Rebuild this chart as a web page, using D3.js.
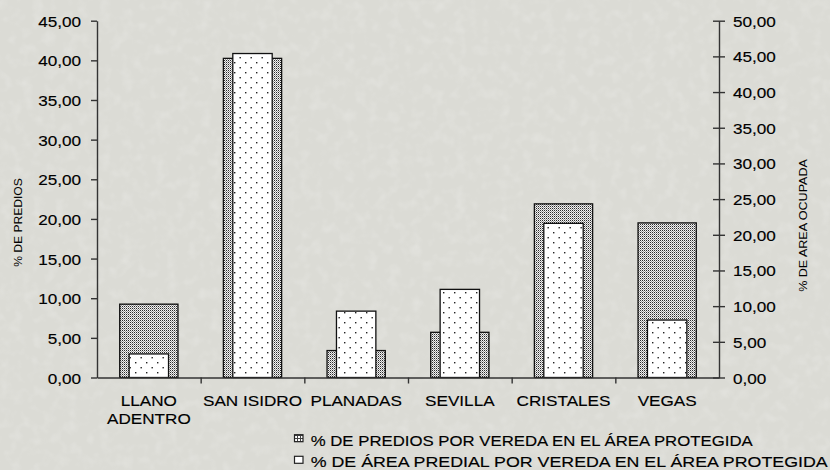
<!DOCTYPE html>
<html>
<head>
<meta charset="utf-8">
<script src="https://cdn.jsdelivr.net/npm/d3@7"></script>
<style>
  html, body { margin: 0; padding: 0; background: #dcdcd6; }
  svg { display: block; }
  text { font-family: Arial, "Liberation Sans", sans-serif; fill: #000; stroke: #000; stroke-width: 0.15; }
</style>
</head>
<body>
<svg id="chart" width="830" height="470"></svg>
<script>
// Veredas (category labels; "\n" marks a line break)
const categories = ["LLANO\nADENTRO", "SAN ISIDRO", "PLANADAS", "SEVILLA", "CRISTALES", "VEGAS"];
// % de predios por vereda (left axis)
const predios = [9.25, 40.25, 3.4, 5.7, 21.9, 19.5];
// % de área predial por vereda (right axis)
const areaPredial = [3.3, 45.4, 9.3, 12.35, 21.6, 8.05];
// Axis ticks
const leftTicks = [0, 5, 10, 15, 20, 25, 30, 35, 40, 45];
const rightTicks = [0, 5, 10, 15, 20, 25, 30, 35, 40, 45, 50];
const leftTitle = "% DE PREDIOS";
const rightTitle = "% DE AREA OCUPADA";
const seriesNames = [
  "% DE PREDIOS POR VEREDA EN EL ÁREA PROTEGIDA",
  "% DE ÁREA PREDIAL POR VEREDA EN EL ÁREA PROTEGIDA"
];

const W = 830, H = 470;
const plot = { left: 97, right: 719, top: 20.7, bottom: 377.5 };
const SX = 1.12;          // horizontal stretch of the typeface
const FS = 15.3;          // label font size

const fmt = d3.formatLocale({ decimal: ",", thousands: ".", grouping: [3], currency: ["", ""] }).format(".2f");

const svg = d3.select("#chart");
const defs = svg.append("defs");

// Paper-like mottled background
const f = defs.append("filter").attr("id", "paper").attr("x", 0).attr("y", 0).attr("width", 1).attr("height", 1);
f.append("feTurbulence").attr("type", "fractalNoise").attr("baseFrequency", 0.09).attr("numOctaves", 2).attr("seed", 4).attr("result", "n");
f.append("feColorMatrix").attr("in", "n").attr("type", "matrix")
  .attr("values", "0 0 0 0 1  0 0 0 0 1  0 0 0 0 1  1.2 0 0 0 -0.55");
svg.append("rect").attr("width", W).attr("height", H).attr("fill", "#dbdbd5");
svg.append("rect").attr("width", W).attr("height", H).attr("filter", "url(#paper)").attr("opacity", 0.35);

// Dense stipple for the wide bars
const pd = defs.append("pattern").attr("id", "dense").attr("patternUnits", "userSpaceOnUse")
  .attr("width", 2).attr("height", 2);
pd.append("rect").attr("width", 2).attr("height", 2).attr("fill", "#f2f2f2");
pd.append("rect").attr("width", 1).attr("height", 1).attr("fill", "#2a2a2a");
pd.append("rect").attr("x", 1).attr("y", 1).attr("width", 1).attr("height", 1).attr("fill", "#9a9a9a");

// Sparse staggered dots for the narrow bars
const ps = defs.append("pattern").attr("id", "sparse").attr("patternUnits", "userSpaceOnUse")
  .attr("width", 11).attr("height", 10);
ps.append("rect").attr("width", 11).attr("height", 10).attr("fill", "#ffffff");
ps.append("rect").attr("x", 3).attr("y", 2).attr("width", 1.4).attr("height", 1.4).attr("fill", "#222");
ps.append("rect").attr("x", 8.5).attr("y", 7).attr("width", 1.4).attr("height", 1.4).attr("fill", "#222");

// Small grid swatch used in the legend
const pg = defs.append("pattern").attr("id", "grid").attr("patternUnits", "userSpaceOnUse")
  .attr("width", 3).attr("height", 3);
pg.append("rect").attr("width", 3).attr("height", 3).attr("fill", "#ffffff");
pg.append("rect").attr("width", 3).attr("height", 1).attr("fill", "#444");
pg.append("rect").attr("width", 1).attr("height", 3).attr("fill", "#444");

// Scales
const x = d3.scaleBand().domain(categories).range([plot.left, plot.right]).padding(0);
const yL = d3.scaleLinear().domain([0, 45]).range([plot.bottom, plot.top]);
const yR = d3.scaleLinear().domain([0, 50]).range([plot.bottom, plot.top]);
const bw = x.bandwidth();
const wideW = bw * 0.562, narrowW = bw * 0.38;

// Wide bars: % de predios
svg.append("g").selectAll("rect").data(categories).join("rect")
  .attr("x", d => x(d) + (bw - wideW) / 2)
  .attr("y", (d, i) => yL(predios[i]))
  .attr("width", wideW)
  .attr("height", (d, i) => yL(0) - yL(predios[i]))
  .attr("fill", "url(#dense)").attr("stroke", "#111").attr("stroke-width", 1.3);

// Narrow bars: % de área predial
svg.append("g").selectAll("rect").data(categories).join("rect")
  .attr("x", d => x(d) + (bw - narrowW) / 2)
  .attr("y", (d, i) => yR(areaPredial[i]))
  .attr("width", narrowW)
  .attr("height", (d, i) => yR(0) - yR(areaPredial[i]))
  .attr("fill", "url(#sparse)").attr("stroke", "#111").attr("stroke-width", 1.3);

// Axes
function styleAxis(g) {
  g.select(".domain").attr("stroke", "#333").attr("stroke-width", 1.4);
  g.selectAll(".tick line").attr("stroke", "#333").attr("stroke-width", 1.4);
  g.selectAll("text").remove();
}

const gL = svg.append("g").attr("transform", `translate(${plot.left},0)`)
  .call(d3.axisLeft(yL).tickValues(leftTicks).tickSize(6).tickSizeOuter(0).tickFormat(""));
styleAxis(gL);
gL.selectAll(".tick").append("text")
  .attr("text-anchor", "end").attr("dy", "0.36em")
  .attr("transform", `translate(-16,0) scale(${SX},1)`)
  .attr("font-size", FS).text(d => fmt(d));

const gR = svg.append("g").attr("transform", `translate(${plot.right},0)`)
  .call(d3.axisRight(yR).tickValues(rightTicks).tickSize(6).tickSizeOuter(0).tickFormat(""));
styleAxis(gR);
gR.selectAll(".tick line").attr("x1", -6).attr("x2", 6);
gR.selectAll(".tick").append("text")
  .attr("text-anchor", "start").attr("dy", "0.36em")
  .attr("transform", `translate(14,0) scale(${SX},1)`)
  .attr("font-size", FS).text(d => fmt(d));

// Category axis with ticks between categories
const xEdge = d3.scaleLinear().domain([0, categories.length]).range([plot.left, plot.right]);
const gX = svg.append("g").attr("transform", `translate(0,${plot.bottom})`)
  .call(d3.axisBottom(xEdge).tickValues(d3.range(1, categories.length)).tickSize(6).tickSizeOuter(0).tickFormat(""));
styleAxis(gX);

svg.append("g").selectAll("text").data(categories).join("text")
  .attr("text-anchor", "middle")
  .attr("font-size", FS)
  .attr("transform", d => `translate(${x(d) + bw / 2},405.5) scale(${SX},1)`)
  .each(function (d) {
    d.split("\n").forEach((line, k) => {
      d3.select(this).append("tspan").attr("x", 0).attr("y", k * 18.5).text(line);
    });
  });

// Axis titles
svg.append("text").attr("text-anchor", "middle").attr("font-size", 11.2)
  .style("stroke-width", 0.05)
  .attr("transform", `translate(22,222.5) rotate(-90) scale(1.08,1)`).text(leftTitle);
svg.append("text").attr("text-anchor", "middle").attr("font-size", 11.6)
  .style("stroke-width", 0.05)
  .attr("transform", `translate(806.5,225.5) rotate(-90) scale(1.08,1)`).text(rightTitle);

// Legend
const legend = svg.append("g");
const legendWidths = [442, 517];
seriesNames.forEach((name, i) => {
  const by = 445.7 + i * 21.6;
  legend.append("rect").attr("x", 294.5).attr("y", by - 11).attr("width", 8.5).attr("height", 7)
    .attr("fill", i === 0 ? "url(#grid)" : "#fff").attr("stroke", "#222").attr("stroke-width", 1.2);
  legend.append("text").attr("font-size", FS)
    .attr("x", 310.7).attr("y", by)
    .attr("textLength", legendWidths[i]).attr("lengthAdjust", "spacingAndGlyphs")
    .text(name);
});
</script>
</body>
</html>
